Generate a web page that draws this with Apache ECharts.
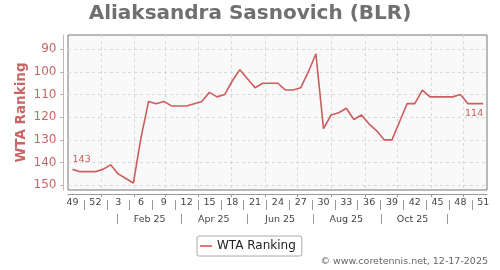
<!DOCTYPE html>
<html>
<head>
<meta charset="utf-8">
<script src="https://cdn.jsdelivr.net/npm/echarts@6/dist/echarts.min.js"></script>
<style>html,body{margin:0;padding:0;background:#fff}#c{width:500px;height:270px}</style>
</head>
<body>
<div id="c"></div>
<script>
// ---- data ----
const weekNumbers = [49,50,51,52,1,2,3,4,5,6,7,8,9,10,11,12,13,14,15,16,17,18,19,20,21,22,23,24,25,26,27,28,29,30,31,32,33,34,35,36,37,38,39,40,41,42,43,44,45,46,47,48,49,50,51];
const wtaRanking = [143,144,144,144,143,141,145,147,149,129,113,114,113,115,115,115,114,113,109,111,110,104,99,103,107,105,105,105,108,108,107,100,92,125,119,118,116,121,119,123,126,130,130,122,114,114,108,111,111,111,111,110,114,114,114];
const yTickValues = [90,100,110,120,130,140,150];
const monthLabels = ['Feb 25','Apr 25','Jun 25','Aug 25','Oct 25'];
const seriesName = 'WTA Ranking';
const titleText = 'Aliaksandra Sasnovich (BLR)';
const creditText = '\u00a9 www.coretennis.net, 12-17-2025';

// ---- axis helpers (dates -> week index) ----
const firstPointDate = Date.UTC(2024, 11, 6);
const weekPos = (y, m, d) => (Date.UTC(y, m, d) - firstPointDate) / (7 * 86400000);
const monthStarts = [];
for (let m = 0; m < 12; m++) monthStarts.push(weekPos(2025, m, 1));
const weekLabelIdx = [];
for (let i = 0; i < weekNumbers.length; i += 3) weekLabelIdx.push(i);
const weekSeparators = weekLabelIdx.slice(0, -1).map(i => i + 1.5);
const monthSeparators = [0, 2, 4, 6, 8, 10].map(m => weekPos(2025, m, 16));
const monthLabelPos = [1, 3, 5, 7, 9].map(m => weekPos(2025, m, 15));

const lineColor = '#cd5c5c';
const xMin = -0.6, xMax = 54.5;

const chart = echarts.init(document.getElementById('c'), null, {renderer: 'canvas'});
const lastIdx = wtaRanking.length - 1;
chart.setOption({
  animation: false,
  textStyle: {fontFamily: 'DejaVu Sans'},
  title: [
    {text: titleText, left: 'center', top: 4, padding: 0,
     textStyle: {fontSize: 20, fontWeight: 'bold', color: '#707070', fontFamily: 'DejaVu Sans'}},
    {text: creditText, right: 12, top: 257, padding: 0,
     textStyle: {fontSize: 9.5, fontWeight: 'normal', color: '#666', fontFamily: 'DejaVu Sans'}}
  ],
  legend: {
    data: [seriesName], left: 197, top: 236, padding: [4, 6, 4, 3],
    icon: 'rect', itemWidth: 12, itemHeight: 1.6,
    borderColor: '#aaa', borderWidth: 1, borderRadius: 2,
    textStyle: {fontSize: 12, color: '#222', fontFamily: 'DejaVu Sans'}
  },
  grid: {left: 68, top: 35, width: 419, height: 155, show: true,
         backgroundColor: '#f9f9f9', borderColor: '#777', borderWidth: 1, containLabel: false},
  xAxis: [
    {type: 'value', min: xMin, max: xMax, position: 'bottom', offset: 4,
     axisLine: {show: true, onZero: false, lineStyle: {color: '#999'}},
     axisTick: {show: true, customValues: monthStarts, length: 3, lineStyle: {color: '#999'}},
     splitLine: {show: true, lineStyle: {type: [3, 3], color: '#d8d8d8'}},
     axisLabel: {customValues: weekLabelIdx, formatter: v => String(weekNumbers[Math.round(v)]),
                 fontSize: 9.5, margin: 4, color: '#444'}},
    {type: 'value', min: xMin, max: xMax, position: 'bottom', offset: 10,
     axisLine: {show: false, onZero: false},
     axisTick: {show: true, customValues: weekSeparators, length: 10, lineStyle: {color: '#999'}},
     splitLine: {show: false}, axisLabel: {show: false}},
    {type: 'value', min: xMin, max: xMax, position: 'bottom', offset: 24,
     axisLine: {show: false, onZero: false},
     axisTick: {show: true, customValues: monthSeparators, length: 10, lineStyle: {color: '#999'}},
     splitLine: {show: false},
     axisLabel: {customValues: monthLabelPos,
                 formatter: v => monthLabels[monthLabelPos.findIndex(p => Math.abs(p - v) < 1e-6)] || '',
                 fontSize: 9.5, margin: 1, color: '#444'}}
  ],
  yAxis: {
    type: 'value', inverse: true, min: 83.7, max: 152.1, position: 'left', offset: 4.5,
    name: seriesName, nameLocation: 'middle', nameGap: 35.5, nameMoveOverlap: false,
    nameTextStyle: {fontSize: 13.5, fontWeight: 'bold', color: '#c96565', fontFamily: 'DejaVu Sans'},
    axisLine: {show: true, onZero: false, lineStyle: {color: '#e2aaaa'}},
    axisTick: {show: true, customValues: yTickValues, length: 3.5, lineStyle: {color: '#c8a8a8'}},
    axisLabel: {customValues: yTickValues, fontSize: 12, margin: 7, color: '#c96565'},
    splitLine: {show: true, lineStyle: {type: [3, 3], color: '#d8d8d8'}}
  },
  series: [{
    name: seriesName, type: 'line', xAxisIndex: 0, yAxisIndex: 0,
    symbol: 'circle', symbolSize: 0, showSymbol: true, color: lineColor,
    lineStyle: {color: lineColor, width: 1.6},
    label: {show: false},
    data: wtaRanking.map((v, i) => {
      const item = {value: [i, v]};
      if (i === 0) item.label = {show: true, position: 'top', align: 'left', distance: 5, fontSize: 9.5, color: lineColor, formatter: String(v)};
      if (i === lastIdx) item.label = {show: true, position: 'bottom', align: 'right', distance: 5, fontSize: 9.5, color: lineColor, formatter: String(v)};
      return item;
    })
  }]
});
</script>
</body>
</html>
